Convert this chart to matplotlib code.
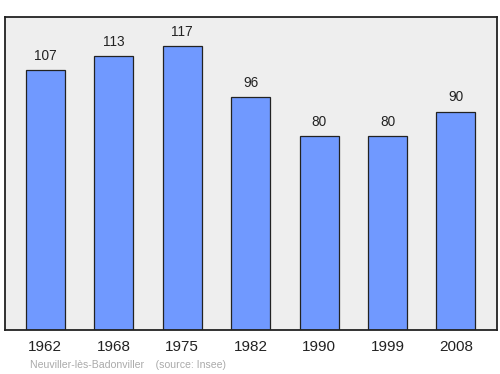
import matplotlib
matplotlib.use("Agg")
import matplotlib.pyplot as plt

plt.rcParams['font.family'] = ['Liberation Sans', 'DejaVu Sans']

# Population data
years = ["1962", "1968", "1975", "1982", "1990", "1999", "2008"]
population = [107, 113, 117, 96, 80, 80, 90]

fig = plt.figure(figsize=(5.0, 3.74), dpi=100)
ax = fig.add_axes([5 / 500, 1 - 330 / 374, 492 / 500, 313 / 374])
ax.set_facecolor("#eeeeee")

x = range(len(years))
ax.bar(x, population, width=0.57, color="#7099ff", edgecolor="#222222", linewidth=0.9)

for i, v in enumerate(population):
    ax.text(i, v + 3.0, str(v), ha="center", va="bottom", fontsize=9.8, color="#222222")

ax.set_xlim(-0.59, 6.6)
ax.set_ylim(0, 129)
ax.set_yticks([])
ax.set_xticks(list(x))
ax.set_xticklabels(years, fontsize=11, color="#222222")
ax.tick_params(axis="x", length=0, pad=7)
for s in ax.spines.values():
    s.set_linewidth(1.3)
    s.set_color("#222222")

fig.text(30 / 500, 1 - 365 / 374, "Neuviller-lès-Badonviller    (source: Insee)",
         fontsize=7.6, color="#aaaaaa", va="center", ha="left")

plt.savefig("out.png", dpi=100)
plt.close()
